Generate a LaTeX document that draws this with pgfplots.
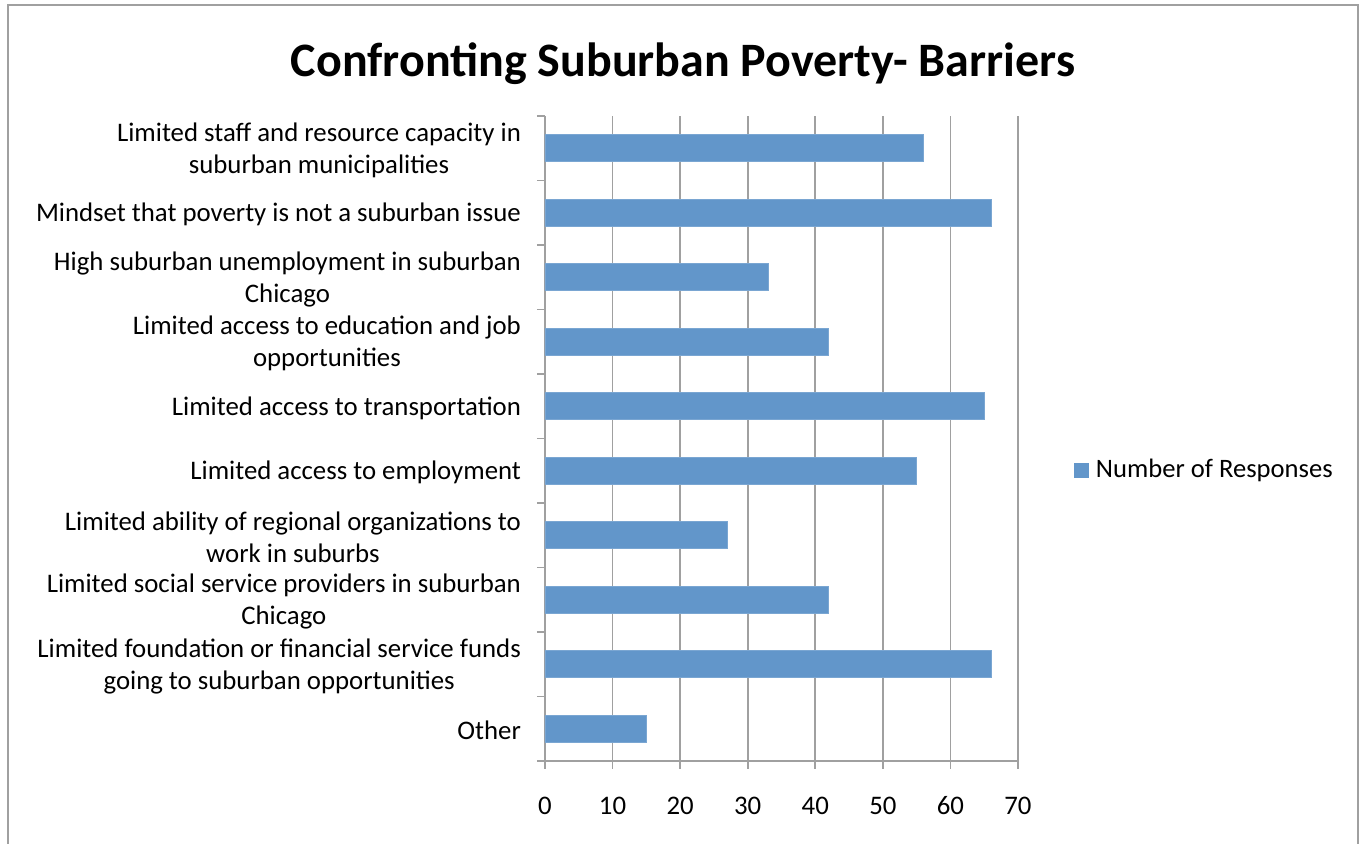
\documentclass[border=0pt]{standalone}
\usepackage{pgfplots}
\pgfplotsset{compat=1.18}
\usepackage{fontspec}
\setmainfont{Carlito}
\definecolor{barblue}{RGB}{98,150,202}
\definecolor{gridgray}{RGB}{160,160,160}

\begin{document}
\begin{tikzpicture}
\path[use as bounding box] (0,0) rectangle (683pt,422pt);
\draw[gridgray, line width=0.9pt] (4pt,-10pt) -- (4pt,419.5pt) -- (679pt,419.5pt) -- (679pt,-10pt);
\node[font=\fontsize{24}{28}\selectfont\bfseries] at (341.5pt,390pt) {Confronting Suburban Poverty- Barriers};
\begin{axis}[
  at={(272.5pt,41.5pt)}, anchor=south west,
  scale only axis, width=236.5pt, height=322.5pt,
  xbar, bar width=13.5pt,
  xmin=0, xmax=70, ymin=-0.5, ymax=9.5,
  xtick={0,10,...,70},
  ytick={0,...,9},
  minor ytick={-0.5,0.5,...,9.5},
  yticklabels={
    {Other},
    {Limited foundation or financial service funds\\going to suburban opportunities},
    {Limited social service providers in suburban\\Chicago},
    {Limited ability of regional organizations to\\work in suburbs},
    {Limited access to employment},
    {Limited access to transportation},
    {Limited access to education and job\\opportunities},
    {High suburban unemployment in suburban\\Chicago},
    {Mindset that poverty is not a suburban issue},
    {Limited staff and resource capacity in\\suburban municipalities}},
  axis x line=bottom, axis y line=left,
  axis line style={-, gridgray, line width=0.9pt},
  tick align=outside,
  major tick length=4pt, minor tick length=4pt,
  tick style={gridgray, line width=0.9pt},
  major y tick style={draw=none},
  xmajorgrids,
  grid style={gridgray, line width=0.9pt},
  /pgf/number format/assume math mode=true,
  ticklabel style={font=\fontsize{13.4}{16}\selectfont},
  yticklabel style={align=center, xshift=-4.5pt, yshift=-1pt},
  xticklabel style={anchor=base, yshift=-23pt},
  legend style={at={(1.118,0.451)}, anchor=west, draw=none, fill=none,
    inner sep=0pt, font=\fontsize{13.3}{15}\selectfont,
    nodes={inner xsep=3.5pt}},
  legend image code/.code={\fill[barblue] (0pt,-3.5pt) rectangle (7pt,3.5pt);},
]
\addplot[fill=barblue, draw=barblue!85!white] coordinates {
  (15,0) (66,1) (42,2) (27,3) (55,4) (65,5) (42,6) (33,7) (66,8) (56,9)
};
\addlegendentry{Number of Responses}
\end{axis}
\end{tikzpicture}
\end{document}
